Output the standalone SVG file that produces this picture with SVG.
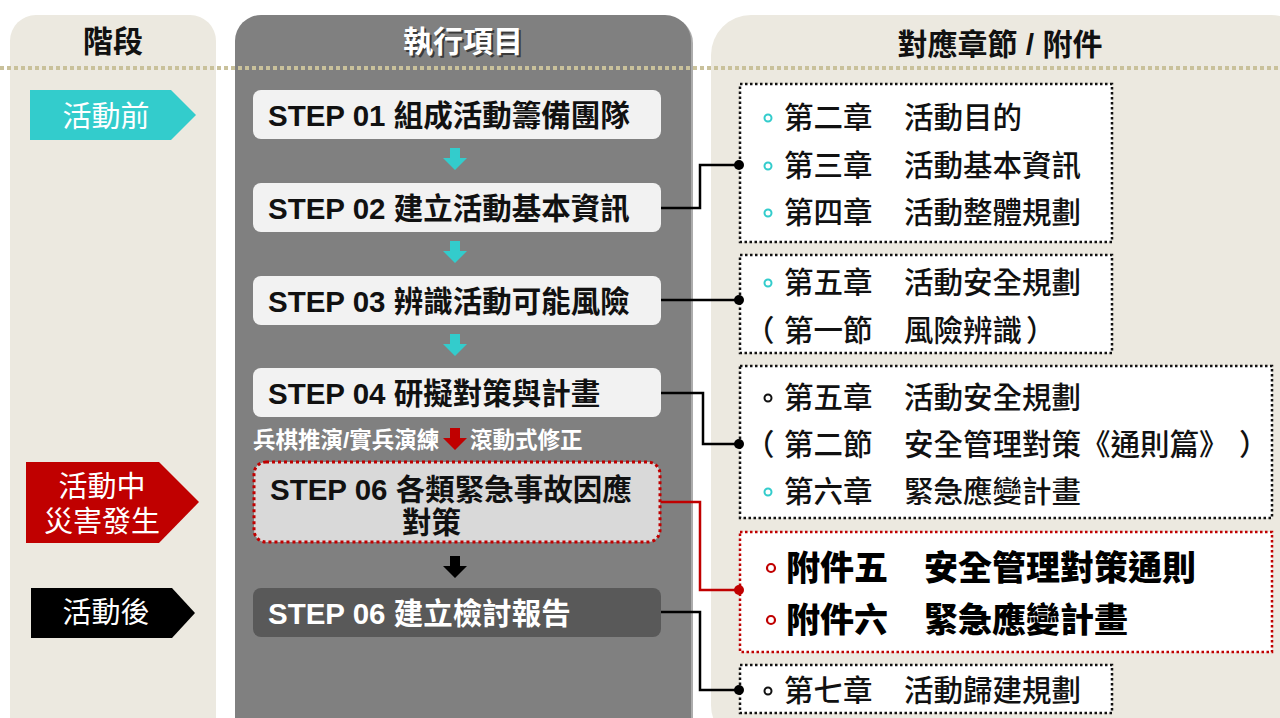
<svg xmlns="http://www.w3.org/2000/svg" width="1280" height="718" viewBox="0 0 1280 718">
<defs>
<style>
.cjk{font-family:"Liberation Sans","Noto Sans CJK TC",sans-serif;}
.hd{font-size:30px;font-weight:bold;text-anchor:middle;fill:#111;}
.step{font-size:29.5px;font-weight:bold;fill:#111;}
.tag{font-size:29px;fill:#fff;text-anchor:middle;}
.ref{font-size:29.5px;font-weight:500;fill:#111;}
.att{font-size:34px;font-weight:900;fill:#000;}
.box{fill:#fff;stroke:#111;stroke-width:2.5;stroke-dasharray:2.5 2.5;}
.conn{fill:none;stroke:#000;stroke-width:2.5;}
.sbox{fill:#F2F2F2;}
</style>
<path id="darr" d="M-5,0 H5 V10 H12 L0,22 L-12,10 H-5 Z"/>
</defs>
<rect width="1280" height="718" fill="#fff"/>
<!-- columns -->
<g id="col-stage"><rect x="10" y="15" width="206" height="730" rx="26" fill="#ECE9E0"/><text class="cjk hd" x="113" y="52">階段</text></g>
<g id="col-steps"><rect x="237" y="17" width="456" height="730" rx="26" fill="#5a5a5a" opacity="0.5"/><rect x="235" y="15" width="456" height="730" rx="26" fill="#808080"/>
<text class="cjk hd" x="465" y="54" style="fill:#3a3a3a">執行項目</text><text class="cjk hd" x="463" y="52" style="fill:#fff">執行項目</text></g>
<g id="col-refs"><rect x="711" y="15" width="600" height="730" rx="40" fill="#ECE9E0"/><text class="cjk hd" x="1000" y="55">對應章節 / 附件</text></g>
<line x1="0" y1="68" x2="1280" y2="68" stroke="#C9C19B" stroke-width="4" stroke-dasharray="4 3"/>
<!-- stage tags -->
<g id="tag-before"><polygon points="30,90 171,90 196,115 171,140 30,140" fill="#33CCCC"/><text class="cjk tag" x="106" y="127">活動前</text></g>
<g id="tag-during"><polygon points="26,462 159,462 199,502 159,543 26,543" fill="#C00000"/><text class="cjk tag" x="102" y="497">活動中</text><text class="cjk tag" x="102" y="532">災害發生</text></g>
<g id="tag-after"><polygon points="31,588 172,588 195,613 172,638 31,638" fill="#000"/><text class="cjk tag" x="106" y="623">活動後</text></g>
<!-- steps -->
<g id="step01"><rect class="sbox" x="253" y="90" width="408" height="49" rx="8"/><text class="cjk step" x="268" y="126">STEP 01 組成活動籌備團隊</text></g>
<g id="step02"><rect class="sbox" x="253" y="183" width="408" height="49" rx="8"/><text class="cjk step" x="268" y="219">STEP 02 建立活動基本資訊</text></g>
<g id="step03"><rect class="sbox" x="253" y="276" width="408" height="49" rx="8"/><text class="cjk step" x="268" y="312">STEP 03 辨識活動可能風險</text></g>
<g id="step04"><rect class="sbox" x="253" y="368" width="408" height="49" rx="8"/><text class="cjk step" x="268" y="404">STEP 04 研擬對策與計畫</text></g>
<g id="drill"><text class="cjk" x="253" y="448" font-size="22.5" font-weight="bold" fill="#fff">兵棋推演/實兵演練</text><use href="#darr" x="455" y="428" fill="#C00000"/><text class="cjk" x="470" y="448" font-size="22.5" font-weight="bold" fill="#fff">滾動式修正</text></g>
<g id="step06a"><rect x="254" y="462" width="406" height="80" rx="12" fill="#D9D9D9" stroke="#C00000" stroke-width="3" stroke-dasharray="3 3"/><text class="cjk step" x="270" y="500">STEP 06 各類緊急事故因應</text><text class="cjk step" x="402" y="533">對策</text></g>
<g id="step06b"><rect x="253" y="588" width="408" height="49" rx="8" fill="#595959"/><text class="cjk step" x="268" y="624" style="fill:#fff">STEP 06 建立檢討報告</text></g>
<g id="flow-arrows"><use href="#darr" x="455" y="148" fill="#33CCCC"/><use href="#darr" x="455" y="241" fill="#33CCCC"/><use href="#darr" x="455" y="334" fill="#33CCCC"/><use href="#darr" x="455" y="556" fill="#000"/></g>
<!-- reference boxes -->
<g id="ref1"><rect class="box" x="740" y="84" width="372" height="158"/>
<circle cx="768" cy="118" r="3.5" fill="#fff" stroke="#33CCCC" stroke-width="2"/><text class="cjk ref" x="784" y="128">第二章</text><text class="cjk ref" x="904" y="128">活動目的</text>
<circle cx="768" cy="166" r="3.5" fill="#fff" stroke="#33CCCC" stroke-width="2"/><text class="cjk ref" x="784" y="176">第三章</text><text class="cjk ref" x="904" y="176">活動基本資訊</text>
<circle cx="768" cy="213" r="3.5" fill="#fff" stroke="#33CCCC" stroke-width="2"/><text class="cjk ref" x="784" y="223">第四章</text><text class="cjk ref" x="904" y="223">活動整體規劃</text></g>
<g id="ref2"><rect class="box" x="740" y="255" width="372" height="98"/>
<circle cx="768" cy="283" r="3.5" fill="#fff" stroke="#33CCCC" stroke-width="2"/><text class="cjk ref" x="784" y="293">第五章</text><text class="cjk ref" x="904" y="293">活動安全規劃</text>
<text class="cjk ref" x="745" y="341">（</text><text class="cjk ref" x="784" y="341">第一節</text><text class="cjk ref" x="904" y="341">風險辨識</text><text class="cjk ref" x="1026" y="341">）</text></g>
<g id="ref3"><rect class="box" x="740" y="366" width="532" height="152"/>
<circle cx="768" cy="398" r="3.5" fill="#fff" stroke="#111" stroke-width="2"/><text class="cjk ref" x="784" y="408">第五章</text><text class="cjk ref" x="904" y="408">活動安全規劃</text>
<text class="cjk ref" x="745" y="455">（</text><text class="cjk ref" x="784" y="455">第二節</text><text class="cjk ref" x="904" y="455">安全管理對策《通則篇》</text><text class="cjk ref" x="1239" y="455">）</text>
<circle cx="768" cy="492" r="3.5" fill="#fff" stroke="#33CCCC" stroke-width="2"/><text class="cjk ref" x="784" y="502">第六章</text><text class="cjk ref" x="904" y="502">緊急應變計畫</text></g>
<g id="ref4"><rect x="740" y="532" width="532" height="120" fill="#fff" stroke="#C00000" stroke-width="2.5" stroke-dasharray="2.5 2.5"/>
<circle cx="771" cy="568" r="4" fill="#fff" stroke="#C00000" stroke-width="2.2"/><text class="cjk att" x="786" y="580">附件五</text><text class="cjk att" x="924" y="580">安全管理對策通則</text>
<circle cx="771" cy="620" r="4" fill="#fff" stroke="#C00000" stroke-width="2.2"/><text class="cjk att" x="786" y="632">附件六</text><text class="cjk att" x="924" y="632">緊急應變計畫</text></g>
<g id="ref5"><rect class="box" x="740" y="665" width="372" height="48"/>
<circle cx="768" cy="691" r="3.5" fill="#fff" stroke="#111" stroke-width="2"/><text class="cjk ref" x="784" y="701">第七章</text><text class="cjk ref" x="904" y="701">活動歸建規劃</text></g>
<!-- connectors -->
<g id="connectors">
<polyline class="conn" points="661,208 700,208 700,165 739,165"/><circle cx="739" cy="165" r="5"/>
<polyline class="conn" points="661,300 739,300"/><circle cx="739" cy="300" r="5"/>
<polyline class="conn" points="661,393 703,393 703,444 739,444"/><circle cx="739" cy="444" r="5"/>
<polyline class="conn" points="661,502 700,502 700,590 739,590" style="stroke:#C00000"/><circle cx="739" cy="590" r="5" fill="#C00000"/>
<polyline class="conn" points="661,612 700,612 700,690 739,690"/><circle cx="739" cy="690" r="5"/>
</g>
</svg>
